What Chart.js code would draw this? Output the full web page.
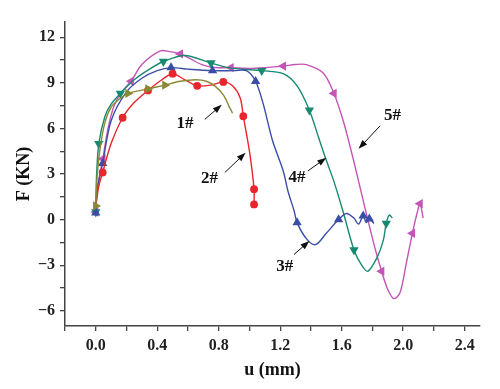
<!DOCTYPE html>
<html>
<head>
<meta charset="utf-8">
<script src="https://cdn.jsdelivr.net/npm/chart.js@4.4.1/dist/chart.umd.min.js"></script>
<style>
  html, body { margin: 0; padding: 0; background: #fff; }
  #wrap { width: 500px; height: 389px; }
</style>
</head>
<body>
<div id="wrap"><canvas id="c" width="500" height="389"></canvas></div>
<script>
'use strict';

// specimen curves, displacement u (mm) vs load F (kN)
const u1 = [0, 0.01, 0.03, 0.06, 0.1, 0.15, 0.21, 0.34, 0.45, 0.55, 0.65, 0.72, 0.78, 0.83, 0.87, 0.89];
const f1 = [0.9, 3.0, 4.8, 6.4, 7.4, 7.9, 8.3, 8.6, 8.85, 9.1, 9.2, 9.1, 8.75, 8.2, 7.4, 7.0];
const m1 = [0, 6, 7, 8];

const u2 = [0, 0.02, 0.045, 0.1, 0.175, 0.25, 0.34, 0.43, 0.5, 0.58, 0.66, 0.75, 0.83, 0.89, 0.94, 0.96, 1.0, 1.03, 1.03];
const f2 = [0.9, 2.2, 3.1, 5.0, 6.7, 7.7, 8.5, 9.2, 9.6, 9.2, 8.8, 8.85, 9.06, 8.8, 8.0, 6.8, 4.5, 2.0, 1.0];
const m2 = [2, 4, 6, 8, 10, 12, 15, 17, 18];

const u3 = [0, 0.01, 0.045, 0.1, 0.2, 0.3, 0.4, 0.49, 0.6, 0.76, 0.9, 0.98, 1.04, 1.09, 1.15, 1.22, 1.25, 1.29, 1.31, 1.37, 1.43, 1.5, 1.58, 1.63, 1.68, 1.71, 1.74, 1.76, 1.78, 1.81];
const f3 = [0.45, 2.0, 3.7, 6.5, 8.4, 9.3, 9.8, 10.0, 9.9, 9.8, 9.8, 9.8, 9.1, 7.6, 5.2, 3.2, 1.9, 0.6, -0.2, -1.25, -1.65, -0.9, 0.0, 0.4, 0.1, -0.3, 0.25, -0.2, 0.05, -0.25];
const m3 = [0, 2, 7, 9, 12, 18, 22, 26, 28];

const u4 = [0, 0.005, 0.02, 0.06, 0.1, 0.16, 0.25, 0.35, 0.44, 0.58, 0.75, 0.86, 0.95, 1.08, 1.22, 1.31, 1.39, 1.45, 1.5, 1.55, 1.61, 1.68, 1.73, 1.77, 1.83, 1.87, 1.89, 1.91, 1.93];
const f4 = [0.5, 2.8, 5.0, 6.8, 7.6, 8.3, 9.2, 9.9, 10.4, 10.8, 10.3, 10.0, 9.9, 9.8, 9.6, 8.8, 7.2, 5.4, 3.9, 2.5, 0.5, -2.0, -3.0, -3.4, -2.5, -1.4, -0.25, 0.3, 0.1];
const m4 = [0, 2, 5, 8, 10, 13, 16, 21, 26];

const u5 = [0, 0.01, 0.046, 0.08, 0.12, 0.17, 0.23, 0.3, 0.42, 0.48, 0.55, 0.62, 0.69, 0.78, 0.88, 1.0, 1.1, 1.22, 1.3, 1.37, 1.48, 1.55, 1.61, 1.67, 1.72, 1.77, 1.82, 1.86, 1.9, 1.94, 1.98, 2.02, 2.06, 2.09, 2.11, 2.13];
const f5 = [0.5, 2.0, 4.0, 6.0, 7.5, 8.4, 9.1, 10.2, 11.1, 11.05, 10.9, 10.55, 10.2, 10.0, 10.0, 9.95, 10.0, 10.1, 10.2, 10.2, 9.65, 8.3, 6.5, 4.2, 2.1, 0.0, -2.0, -3.4, -4.6, -5.2, -4.8, -2.9, -0.9, 0.4, 1.05, 0.1];
const m5 = [0, 2, 6, 10, 14, 17, 21, 27, 32, 34];

const names = ['1#', '2#', '3#', '4#', '5#'];
const xTicks = [-0.2, 0, 0.2, 0.4, 0.6, 0.8, 1.0, 1.2, 1.4, 1.6, 1.8, 2.0, 2.2, 2.4];
const yTicks = [-6, -4.5, -3, -1.5, 0, 1.5, 3, 4.5, 6, 7.5, 9, 10.5, 12];

const SERIF = '"Liberation Serif", "DejaVu Serif", serif';

function series(name, us, fs, marks, color, rot) {
  return {
    label: name,
    data: us.map((u, i) => ({ x: u, y: fs[i] })),
    borderColor: color,
    backgroundColor: color,
    borderWidth: 1.4,
    pointStyle: rot === null ? 'circle' : 'triangle',
    pointRotation: rot || 0,
    pointRadius: us.map((_, i) => (marks.includes(i) ? (rot === null ? 3.2 : 4) : 0)),
    pointHoverRadius: 0,
    tension: 0.3,
  };
}

// label text + arrow (data coords)
const callouts = [
  { t: '1#', at: [0.58, 6.3], from: [0.71, 6.6], to: [0.82, 7.55] },
  { t: '2#', at: [0.74, 2.7], from: [0.84, 3.1], to: [0.975, 4.4] },
  { t: '3#', at: [1.23, -3.1], from: [1.29, -2.3], to: [1.39, -1.4] },
  { t: '4#', at: [1.31, 2.76], from: [1.38, 3.2], to: [1.5, 4.07] },
  { t: '5#', at: [1.93, 6.83], from: [1.85, 6.17], to: [1.71, 4.66] },
];

const calloutPlugin = {
  id: 'callouts',
  afterDatasetsDraw(chart) {
    const { ctx, scales } = chart;
    const px = (p) => [scales.x.getPixelForValue(p[0]), scales.y.getPixelForValue(p[1])];
    ctx.save();
    ctx.fillStyle = '#111';
    ctx.strokeStyle = '#111';
    ctx.lineWidth = 1;
    ctx.font = 'bold 17px ' + SERIF;
    ctx.textAlign = 'center';
    ctx.textBaseline = 'middle';
    callouts.forEach((c) => {
      const [tx, ty] = px(c.at);
      ctx.fillText(c.t, tx, ty);
      const [x0, y0] = px(c.from);
      const [x1, y1] = px(c.to);
      const a = Math.atan2(y1 - y0, x1 - x0);
      ctx.beginPath();
      ctx.moveTo(x0, y0);
      ctx.lineTo(x1 - 6 * Math.cos(a), y1 - 6 * Math.sin(a));
      ctx.stroke();
      ctx.beginPath();
      ctx.moveTo(x1, y1);
      ctx.lineTo(x1 - 9 * Math.cos(a) + 3.2 * Math.sin(a), y1 - 9 * Math.sin(a) - 3.2 * Math.cos(a));
      ctx.lineTo(x1 - 9 * Math.cos(a) - 3.2 * Math.sin(a), y1 - 9 * Math.sin(a) + 3.2 * Math.cos(a));
      ctx.closePath();
      ctx.fill();
    });
    ctx.restore();
  },
};

const tickFont = { family: SERIF, size: 16, weight: 'bold' };
const axisGrid = { drawOnChartArea: false, drawTicks: true, tickLength: 5, color: '#444', lineWidth: 1.3 };
const axisBorder = { display: true, color: '#444', width: 1.5 };

new Chart(document.getElementById('c'), {
  type: 'line',
  data: {
    datasets: [
      series(names[0], u1, f1, m1, '#8a8a35', 90),
      series(names[1], u2, f2, m2, '#e8262c', null),
      series(names[2], u3, f3, m3, '#3b4ea6', 0),
      series(names[3], u4, f4, m4, '#178a72', 180),
      series(names[4], u5, f5, m5, '#c455b6', -90),
    ],
  },
  options: {
    animation: false,
    responsive: false,
    events: [],
    layout: { padding: { top: 22, right: 20, left: 0, bottom: 0 } },
    plugins: { legend: { display: false }, tooltip: { enabled: false } },
    scales: {
      x: {
        type: 'linear',
        min: -0.2,
        max: 2.5,
        afterBuildTicks: (s) => { s.ticks = xTicks.map((v) => ({ value: v })); },
        afterFit: (s) => { s.height = 63; },
        grid: axisGrid,
        border: axisBorder,
        ticks: {
          font: tickFont,
          color: '#222',
          padding: 5,
          maxRotation: 0,
          autoSkip: false,
          callback: (v) => (Math.round(v * 10) % 4 === 0 ? v.toFixed(1) : ''),
        },
        title: { display: true, text: 'u (mm)', font: { family: SERIF, size: 18, weight: 'bold' }, color: '#111', padding: { top: 0, bottom: 8 } },
      },
      y: {
        type: 'linear',
        min: -7,
        max: 13,
        afterBuildTicks: (s) => { s.ticks = yTicks.map((v) => ({ value: v })); },
        afterFit: (s) => { s.width = 65; },
        grid: axisGrid,
        border: axisBorder,
        ticks: {
          font: tickFont,
          color: '#222',
          padding: 5,
          autoSkip: false,
          callback: (v) => (v % 3 === 0 ? String(v).replace('-', '\u2212') : ''),
        },
        title: { display: true, text: 'F (KN)', font: { family: SERIF, size: 18, weight: 'bold' }, color: '#111', padding: { top: 14, bottom: 0 } },
      },
    },
  },
  plugins: [calloutPlugin],
});
</script>
</body>
</html>
